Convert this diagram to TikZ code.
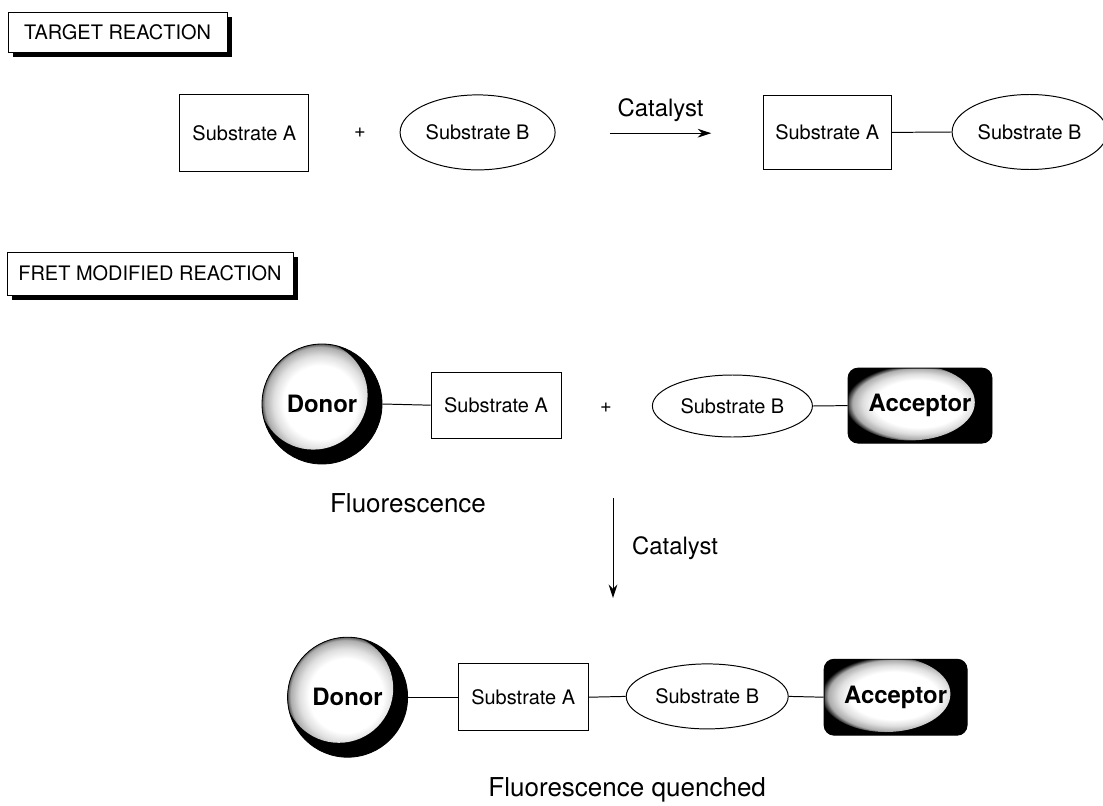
\documentclass[tikz,border=0pt]{standalone}
\usepackage{fontspec}
\setmainfont{TeX Gyre Heros}
\usetikzlibrary{arrows.meta,shapes.geometric,shadows}

\newcommand{\sizelabel}{\fontsize{14.2}{17}\selectfont}
\newcommand{\sizenote}{\fontsize{17}{20}\selectfont}
\newcommand{\sizebig}{\fontsize{18.5}{22}\selectfont}

% white core fading to black at the shape edge (edge = 25bp)
\pgfdeclareradialshading{glow}{\pgfpoint{0bp}{0bp}}{%
  color(0bp)=(white); color(15bp)=(white); color(19bp)=(gray!25);
  color(22.5bp)=(gray!65); color(25bp)=(black); color(50bp)=(black)}

\tikzset{
    fret diagram/.style = {>={Stealth[length=3.4mm, width=2.2mm]}},
    line/.style         = {line width=0.7pt},
    title box/.style    = {draw, line width=0.6pt, fill=white, inner sep=0pt,
                           font=\sizelabel, minimum height=1cm,
                           drop shadow={shadow xshift=0.12cm,
                                        shadow yshift=-0.12cm,
                                        fill=black, opacity=1}},
    substrate/.style    = {draw, line width=0.7pt, inner sep=0pt,
                           font=\sizelabel, minimum width=3.25cm,
                           minimum height=1.65cm},
    partner/.style      = {ellipse, draw, line width=0.7pt, inner sep=0pt,
                           font=\sizelabel, minimum width=4cm,
                           minimum height=1.55cm},
    donor/.style        = {circle, draw, fill=black, line width=0.6pt,
                           minimum size=3cm, inner sep=0pt,
                           font=\sizenote\bfseries,
                           path picture={\shade[shading=glow]
                             ([shift={(-0.22,0.22)}]path picture bounding box.center)
                             circle[radius=1.36cm];}},
    acceptor/.style     = {draw, fill=black, line width=0.6pt,
                           rounded corners=0.25cm, inner sep=0pt,
                           minimum width=3.6cm, minimum height=1.875cm,
                           font=\sizenote\bfseries,
                           path picture={\shade[shading=glow]
                             ([shift={(-0.25,0.08)}]path picture bounding box.center)
                             ellipse[x radius=1.62cm, y radius=0.95cm];}},
    plus/.style         = {font=\sizelabel},
    note/.style         = {font=\sizenote},
    big note/.style     = {font=\sizebig}
}

\begin{document}
\begin{tikzpicture}[fret diagram]
\useasboundingbox (0,0) rectangle (27.575,-20.125);

% ================= Target reaction =================
\node[title box, minimum width=5.475cm] (target) at (2.94,-0.80) {TARGET REACTION};
\node[substrate, minimum width=3.225cm, minimum height=1.925cm]
    (subA) at (6.11,-3.33) {Substrate A};
\node[plus] (plusA) at (9.0,-3.33) {+};
\node[partner, minimum width=3.875cm, minimum height=1.875cm]
    (subB) at (11.94,-3.31) {Substrate B};
\coordinate (catL) at (15.25,-3.33);
\coordinate (catR) at (17.78,-3.33);
\draw[->, line] (catL) -- node[note, above=1.5mm] {Catalyst} (catR);
\node[substrate, minimum width=3.2cm, minimum height=1.85cm]
    (prodA) at (20.68,-3.31) {Substrate A};
\node[partner, minimum width=3.875cm, minimum height=1.875cm]
    (prodB) at (25.74,-3.3) {Substrate B};
\draw[line] (prodA.east) -- (prodB.west);

% ================= FRET modified reaction =================
\node[title box, minimum width=7.15cm, minimum height=1.075cm]
    (fret) at (3.75,-6.84) {FRET MODIFIED REACTION};
\node[donor] (donorA) at (8.05,-10.1) {Donor};
\node[substrate] (fsubA) at (12.4,-10.13) {Substrate A};
\node[plus] (plusB) at (15.15,-10.2) {+};
\node[partner] (fsubB) at (18.31,-10.15) {Substrate B};
\node[acceptor] (accA) at (23.0,-10.14) {Acceptor};
\draw[line] (donorA.east) -- (fsubA.west);
\draw[line] (fsubB.east) -- (accA.west);
\node[big note] (fluor) at (10.2,-12.575) {Fluorescence};

% ================= Catalysed step =================
\coordinate (stepT) at (15.325,-12.45);
\coordinate (stepB) at (15.325,-14.95);
\draw[->, line] (stepT) -- node[note, right=3.5mm] {Catalyst} (stepB);

% ================= Product =================
\node[donor] (donorB) at (8.69,-17.43) {Donor};
\node[substrate, minimum height=1.675cm] (psubA) at (13.08,-17.43) {Substrate A};
\node[partner, minimum width=4.05cm, minimum height=1.625cm]
    (psubB) at (17.68,-17.41) {Substrate B};
\node[acceptor, minimum width=3.575cm, minimum height=1.9cm]
    (accB) at (22.39,-17.43) {Acceptor};
\draw[line] (donorB.east) -- (psubA.west);
\draw[line] (psubA.east) -- (psubB.west);
\draw[line] (psubB.east) -- (accB.west);
\node[big note] (quench) at (15.68,-19.75) {Fluorescence quenched};

\end{tikzpicture}
\end{document}
